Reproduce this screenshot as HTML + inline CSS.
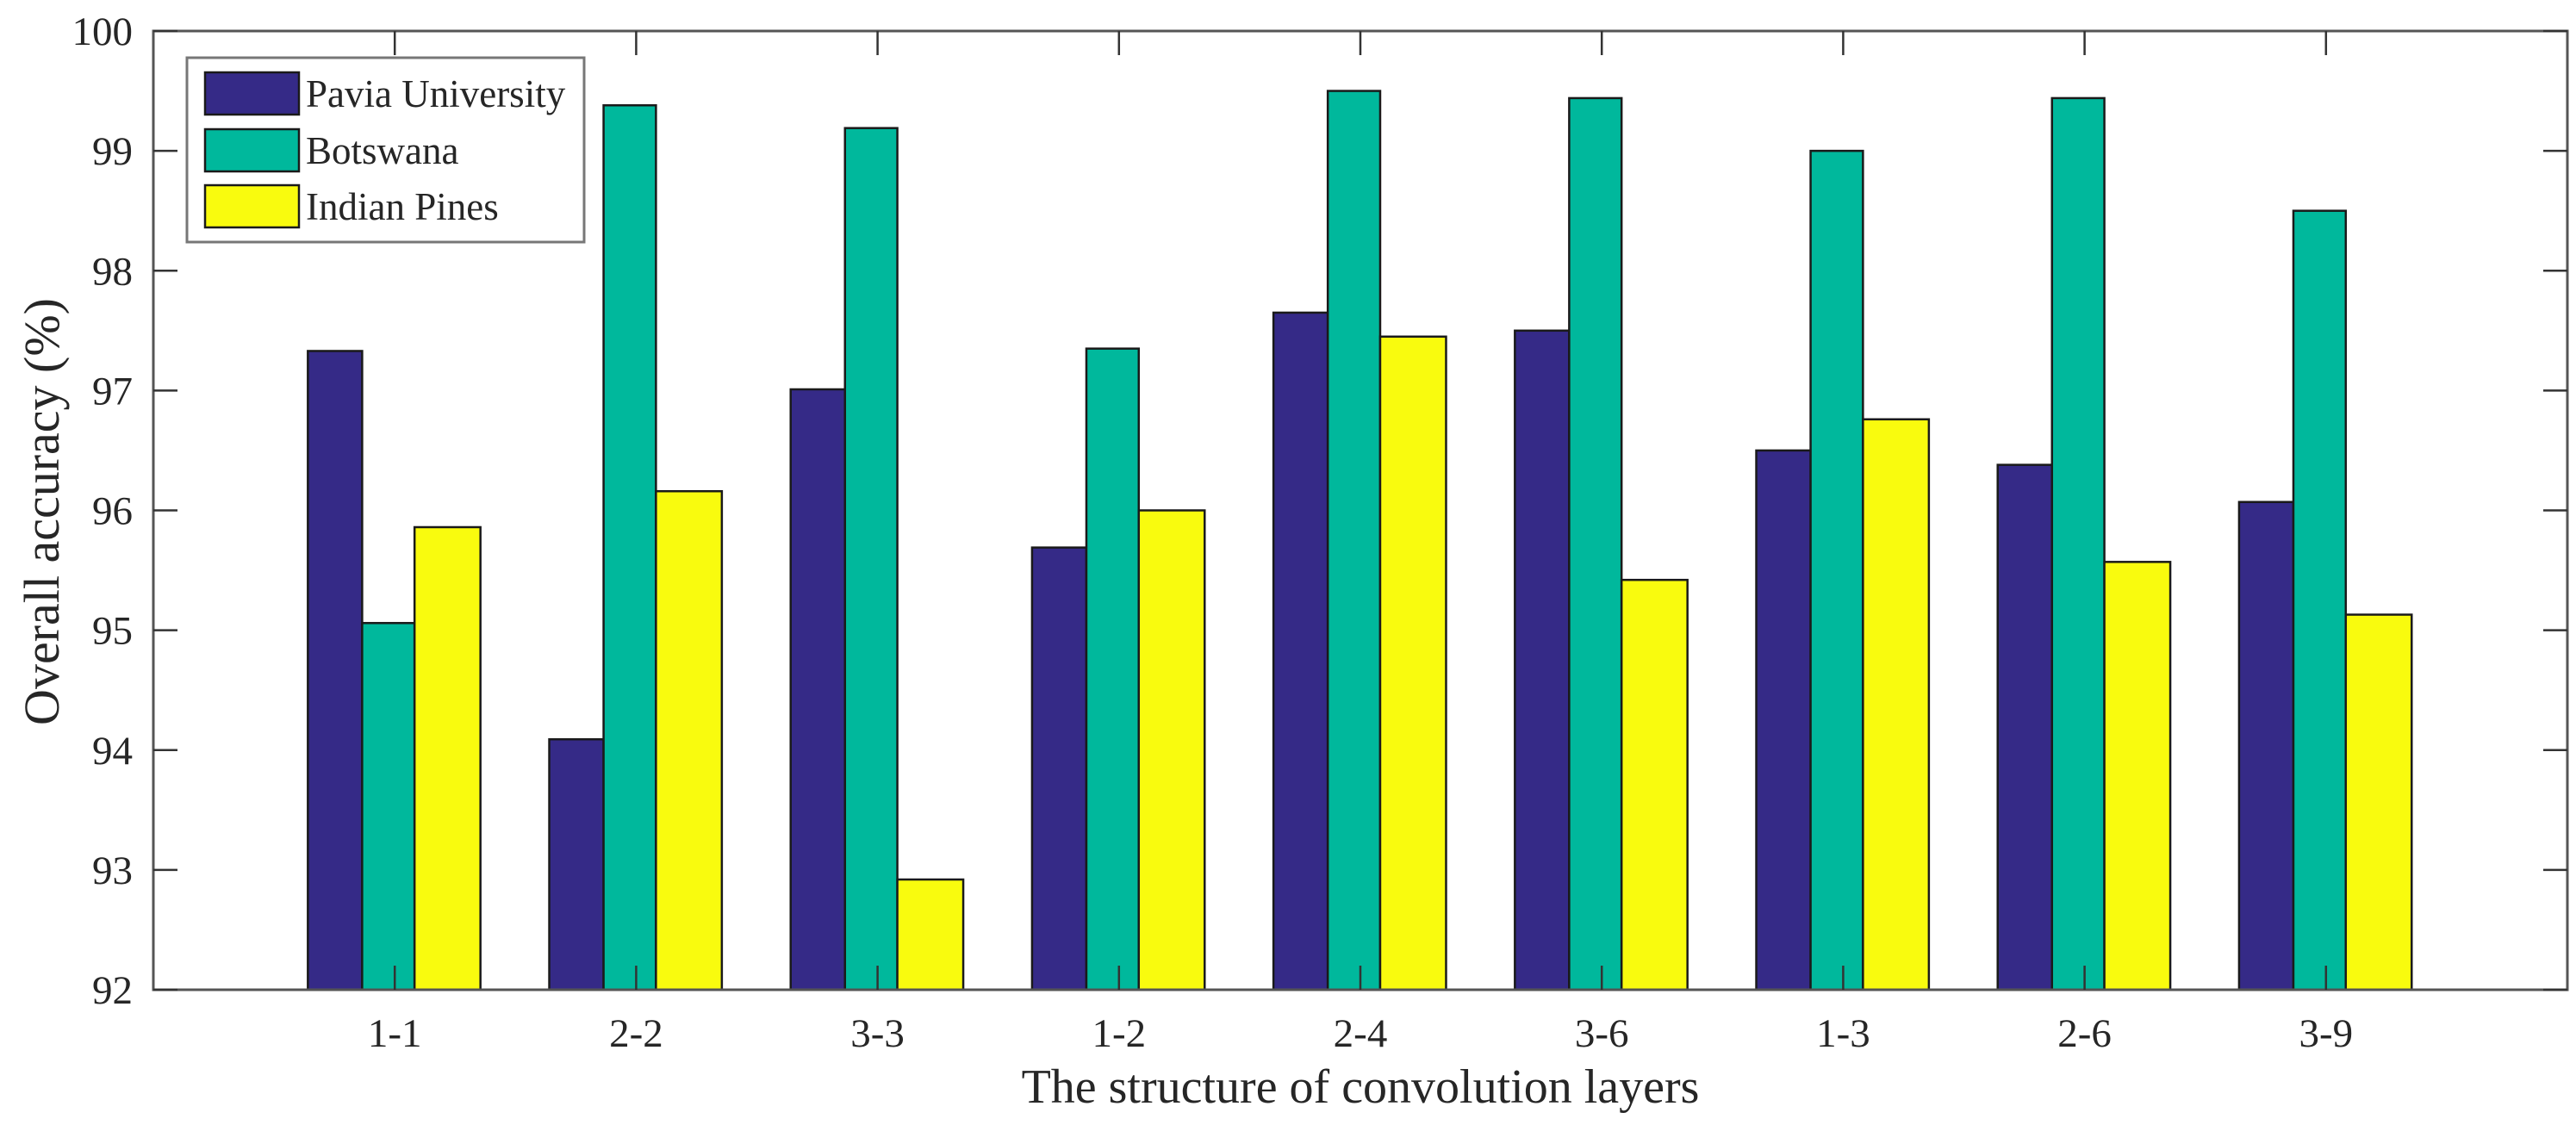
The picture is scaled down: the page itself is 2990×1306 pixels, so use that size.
<!DOCTYPE html>
<html><head><meta charset="utf-8"><style>
html,body{margin:0;padding:0;background:#fff;}
svg text{font-family:"Liberation Serif",serif;fill:#262626;}
</style></head><body>
<svg id="chart" width="2990" height="1301" xmlns="http://www.w3.org/2000/svg"></svg>
<script>
const categories = ["1-1","2-2","3-3","1-2","2-4","3-6","1-3","2-6","3-9"];
const paviaValues = [97.33,94.09,97.01,95.69,97.65,97.50,96.50,96.38,96.07];
const botswanaValues = [95.06,99.38,99.19,97.35,99.50,99.44,99.00,99.44,98.50];
const indianValues = [95.86,96.16,92.92,96.00,97.45,95.42,96.76,95.57,95.13];
const yTicks = [92,93,94,95,96,97,98,99,100];
const seriesNames = ["Pavia University","Botswana","Indian Pines"];

const svg = document.getElementById('chart');
const NS = 'http://www.w3.org/2000/svg';
const L=178, R=2980, T=36, B=1149, yMin=92, yMax=100, xMin=0, xMax=10;
const xS = v => L + (v - xMin) / (xMax - xMin) * (R - L);
const yS = v => B - (v - yMin) / (yMax - yMin) * (B - T);
function mk(tag, attrs, parent){const e=document.createElementNS(NS,tag);for(const k in attrs)e.setAttribute(k,attrs[k]);(parent||svg).appendChild(e);return e;}

const colors = ["#352a87","#00b89c","#f9fb0e"];
const offs = [[-0.36,-0.135],[-0.135,0.082],[0.082,0.355]];
const series = [paviaValues, botswanaValues, indianValues];
const barG = mk('g',{});


series.forEach((vals,s)=>{
  vals.forEach((v,i)=>{
    const x0 = xS(i+1+offs[s][0]), x1 = xS(i+1+offs[s][1]);
    const r = mk('rect',{x:x0,y:yS(v),width:x1-x0,height:yS(yMin)-yS(v),fill:colors[s],stroke:'#1a1a1a','stroke-width':2.5},barG);
    
    
  });
});

const box = mk('rect',{x:L,y:T,width:R-L,height:B-T,fill:'none',stroke:'#555','stroke-width':3});



yTicks.forEach(t=>{
  const y=yS(t);
  mk('line',{x1:L,y1:y,x2:L+28,y2:y,stroke:'#333','stroke-width':2.5});
  mk('line',{x1:R-28,y1:y,x2:R,y2:y,stroke:'#333','stroke-width':2.5});
  const tx = mk('text',{x:L-24,y:y+16,'text-anchor':'end','font-size':47});
  tx.textContent=t;
  
  
});
categories.forEach((c,i)=>{
  const x=xS(i+1);
  mk('line',{x1:x,y1:B,x2:x,y2:B-28,stroke:'#333','stroke-width':2.5});
  mk('line',{x1:x,y1:T,x2:x,y2:T+28,stroke:'#333','stroke-width':2.5});
  const tx = mk('text',{x:x,y:B+66,'text-anchor':'middle','font-size':47});
  tx.textContent=c;
  
  
});

const xt = mk('text',{x:(L+R)/2,y:1280,'text-anchor':'middle','font-size':56});
xt.textContent='The structure of convolution layers';


const yt = mk('text',{x:0,y:0,'text-anchor':'middle','font-size':58,transform:'translate(68,594) rotate(-90)'});
yt.textContent='Overall accuracy (%)';



const lg = mk('g',{});


mk('rect',{x:217,y:67,width:461,height:214,fill:'#fff',stroke:'#777','stroke-width':3},lg);
const sy=[84,150,215];
seriesNames.forEach((n,s)=>{
  const sw = mk('rect',{x:238,y:sy[s],width:109,height:49,fill:colors[s],stroke:'#1a1a1a','stroke-width':2.5},lg);
  
  
  const t = mk('text',{x:355,y:sy[s]+40,'font-size':45,fill:'#000'},lg);
  t.textContent=n;
  
  
});
</script>
</body></html>
